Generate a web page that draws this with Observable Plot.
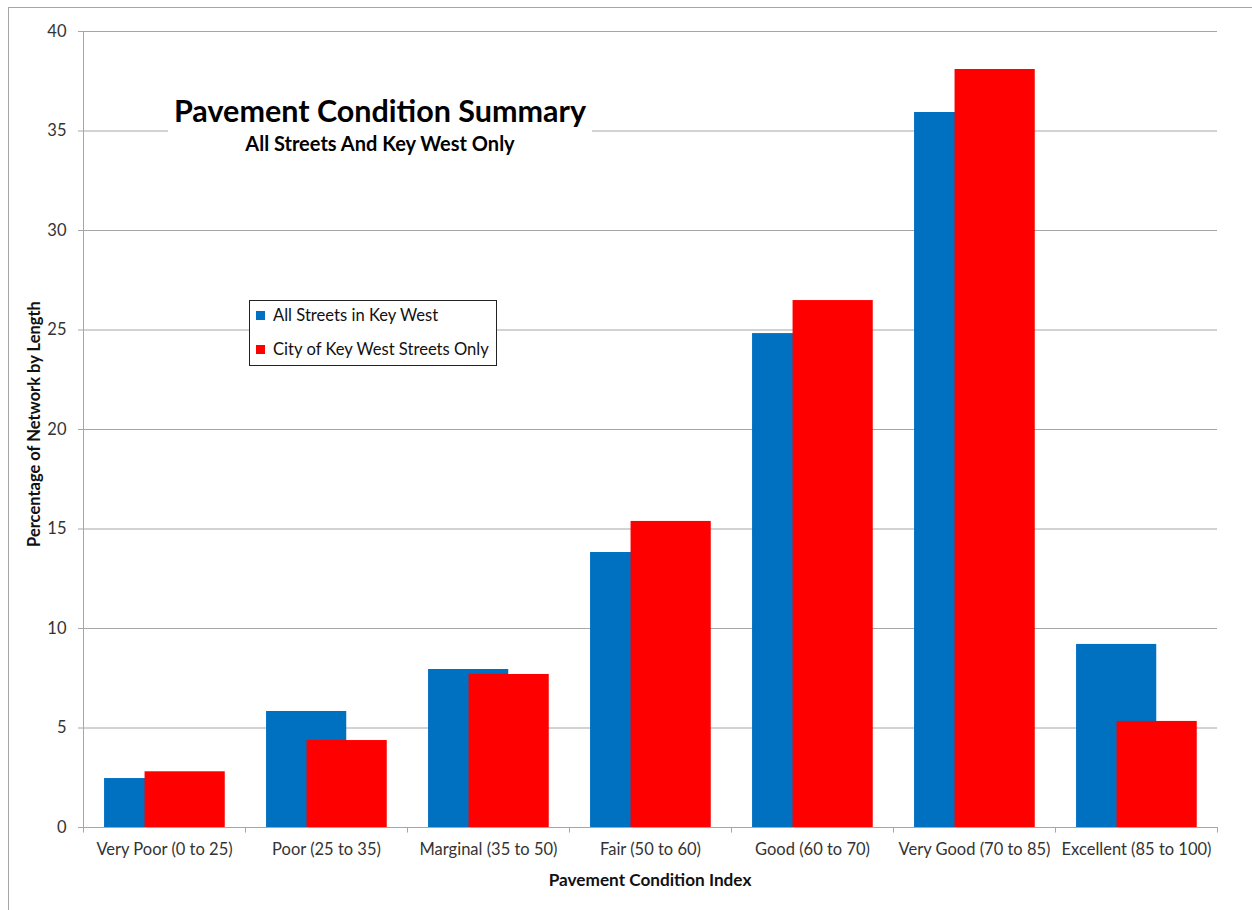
<!DOCTYPE html>
<html>
<head>
<meta charset="utf-8">
<script src="https://cdn.jsdelivr.net/npm/d3@7"></script>
<script src="https://cdn.jsdelivr.net/npm/@observablehq/plot@0.6"></script>
<style>
  html, body { margin: 0; padding: 0; background: #fff; }
  #wrap { position: relative; width: 1252px; height: 910px; overflow: hidden; font-family: Lato, "Open Sans", sans-serif; }
  #frame { position: absolute; left: 8px; top: 7px; width: 1300px; height: 1000px; border-top: 1px solid #a6a6a6; border-left: 1px solid #a6a6a6; }
  #chart { position: absolute; left: 0; top: 0; }
  .title-box { position: absolute; left: 168px; top: 92px; width: 424px; height: 66px; background: #fff; }
  .title { position: absolute; top: 92px; text-align: center; font-weight: 700; font-size: 30.5px; line-height: 36.6px; color: #000; white-space: nowrap; }
  .subtitle { position: absolute; top: 131px; text-align: center; font-weight: 700; font-size: 20px; line-height: 24px; color: #000; white-space: nowrap; }
  .legend { position: absolute; left: 249px; top: 300px; width: 246px; height: 64px; border: 1px solid #222; background: #fff; font-size: 16.6px; color: #111; }
  .legend .item { position: absolute; left: 6px; height: 20px; display: flex; align-items: center; white-space: nowrap; }
  .legend .sw { width: 9px; height: 9px; margin-right: 8px; }
  .ylab { position: absolute; left: 34px; top: 424px; transform: translate(-50%, -50%) rotate(-90deg); font-weight: 700; font-size: 16.5px; white-space: nowrap; color: #111; }
  .xlab { position: absolute; left: 650px; top: 879px; transform: translate(-50%, -50%); font-weight: 700; font-size: 17.2px; white-space: nowrap; color: #111; }
</style>
</head>
<body>
<div id="wrap">
  <div id="frame"></div>
  <div id="chart"></div>
  <div class="title-box"></div>
  <div class="title" id="title" style="left:168px;width:424px;"></div>
  <div class="subtitle" id="subtitle" style="left:168px;width:424px;"></div>
  <div class="legend" id="legend"></div>
  <div class="ylab" id="ylab"></div>
  <div class="xlab" id="xlab"></div>
</div>
<script>
const categories = [
  "Very Poor (0 to 25)",
  "Poor (25 to 35)",
  "Marginal (35 to 50)",
  "Fair (50 to 60)",
  "Good (60 to 70)",
  "Very Good (70 to 85)",
  "Excellent (85 to 100)"
];
const allStreets = [2.46, 5.83, 7.94, 13.82, 24.82, 35.93, 9.2];
const cityOnly = [2.8, 4.37, 7.69, 15.38, 26.48, 38.09, 5.33];
const seriesNames = ["All Streets in Key West", "City of Key West Streets Only"];
const seriesColors = ["#0070C0", "#FF0000"];
const yTicks = [0, 5, 10, 15, 20, 25, 30, 35, 40];
const titleText = "Pavement Condition Summary";
const subtitleText = "All Streets And Key West Only";
const xLabel = "Pavement Condition Index";
const yLabel = "Percentage of Network by Length";

const blueData = categories.map((c, i) => ({cat: c, v: allStreets[i]}));
const redData = categories.map((c, i) => ({cat: c, v: cityOnly[i]}));

const W = 1252, H = 910;
const mL = 83, mR = 35, mT = 31, mB = 83;
const band = (W - mL - mR) / categories.length;
const gridColor = "#a6a6a6";

const chart = Plot.plot({
  width: W,
  height: H,
  marginLeft: mL,
  marginRight: mR,
  marginTop: mT,
  marginBottom: mB,
  style: {fontFamily: "Lato, 'Open Sans', sans-serif", fontSize: "16.5px", color: "#333", background: "transparent", overflow: "visible"},
  x: {domain: categories, padding: 0, label: null},
  y: {domain: [0, 40], label: null},
  marks: [
    Plot.gridY(yTicks, {stroke: gridColor, strokeOpacity: 1}),
    Plot.barY(blueData, {x: "cat", y: "v", fill: seriesColors[0], insetLeft: band * 0.13, insetRight: band * 0.375}),
    Plot.barY(redData, {x: "cat", y: "v", fill: seriesColors[1], insetLeft: band * 0.38, insetRight: band * 0.125}),
    Plot.ruleY([0], {stroke: gridColor}),
    Plot.ruleX([categories[0]], {x: d => d, dx: -band / 2, y1: 0, y2: 40, stroke: gridColor}),
    Plot.ruleX(categories, {x: d => d, dx: -band / 2, y1: 0, y2: -0.28, stroke: gridColor}),
    Plot.ruleX([categories[categories.length - 1]], {x: d => d, dx: band / 2, y1: 0, y2: -0.28, stroke: gridColor}),
    Plot.axisY(yTicks, {tickSize: 5, tickPadding: 12, stroke: gridColor, fill: "#333", label: null}),
    Plot.axisX({tickSize: 0, tickPadding: 16, fill: "#333", label: null})
  ]
});
document.getElementById("chart").appendChild(chart);

document.getElementById("title").textContent = titleText;
document.getElementById("subtitle").textContent = subtitleText;
document.getElementById("xlab").textContent = xLabel;
document.getElementById("ylab").textContent = yLabel;

const legend = document.getElementById("legend");
seriesNames.forEach((name, i) => {
  const item = document.createElement("div");
  item.className = "item";
  item.style.top = (i === 0 ? 4 : 38) + "px";
  const sw = document.createElement("div");
  sw.className = "sw";
  sw.style.background = seriesColors[i];
  const t = document.createElement("span");
  t.textContent = name;
  item.appendChild(sw);
  item.appendChild(t);
  legend.appendChild(item);
});
</script>
</body>
</html>
